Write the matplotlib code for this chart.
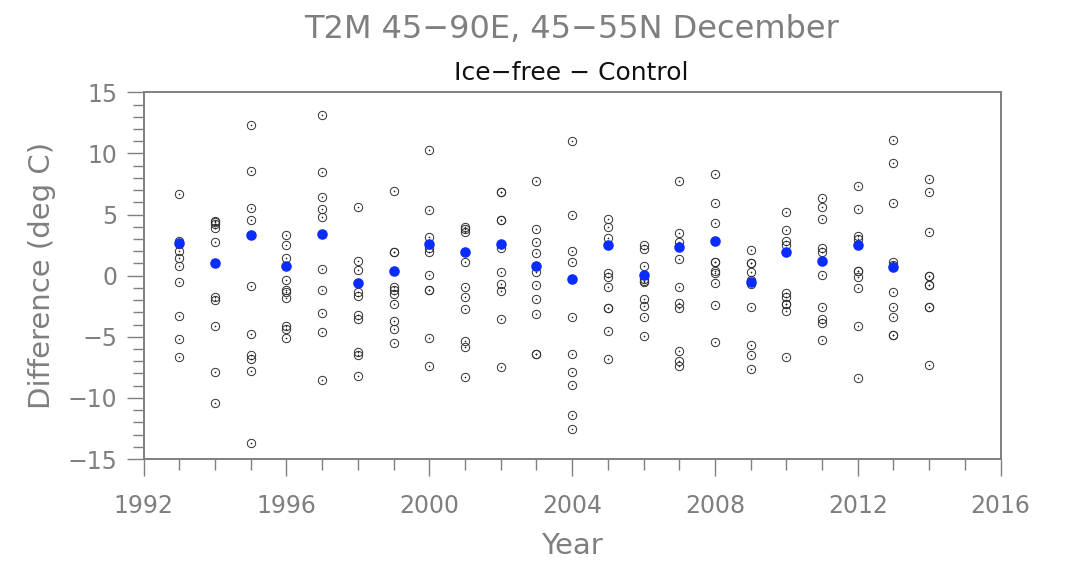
import matplotlib
matplotlib.use("Agg")
import matplotlib.pyplot as plt
from matplotlib.ticker import MultipleLocator

# ensemble members per year
t1993 = [6.68, 2.85, 2.60, 2.05, 1.42, 0.82, -0.55, -3.30, -5.21, -6.68]
t1994 = [4.45, 4.35, 4.20, 3.87, 2.73, -1.77, -1.99, -4.12, -7.91, -10.42]
t1995 = [12.36, 8.54, 5.56, 4.53, -0.87, -4.75, -6.49, -6.82, -7.77, -13.72]
t1996 = [3.36, 2.51, 1.45, -0.33, -1.17, -1.31, -1.83, -4.12, -4.39, -5.10]
t1997 = [13.15, 8.48, 6.46, 5.45, 4.83, 0.57, -1.20, -3.05, -4.58, -8.51]
t1998 = [5.59, 1.23, 0.46, -1.34, -1.69, -3.22, -3.57, -6.22, -6.46, -8.18]
t1999 = [6.96, 1.91, 1.91, -0.90, -1.17, -1.50, -2.32, -3.74, -4.36, -5.51]
t2000 = [10.31, 5.40, 3.19, 2.30, 1.96, 0.08, -1.17, -1.17, -5.10, -7.36]
t2001 = [4.01, 3.79, 3.55, 1.09, -0.95, -1.77, -2.73, -5.37, -5.81, -8.26]
t2002 = [6.82, 6.82, 4.55, 4.55, 2.26, 0.27, -0.68, -1.23, -3.57, -7.45]
t2003 = [7.72, 3.85, 2.78, 1.85, 0.27, -0.76, -1.94, -3.14, -6.41, -6.41]
t2004 = [11.05, 4.96, 2.02, 1.09, -3.38, -6.41, -7.91, -8.98, -11.37, -12.55]
t2005 = [4.66, 3.95, 3.08, 0.19, -0.14, -0.90, -2.67, -2.67, -4.56, -6.79]
t2006 = [2.54, 2.18, 0.82, -0.27, -0.40, -0.49, -1.91, -2.45, -3.36, -4.91]
t2007 = [7.72, 3.49, 2.73, 1.39, -0.90, -2.27, -2.65, -6.19, -6.96, -7.39]
t2008 = [8.32, 5.92, 4.31, 1.09, 1.09, 0.41, 0.19, -0.63, -2.37, -5.45]
t2009 = [2.10, 1.04, 1.04, 0.27, -0.35, -0.70, -2.54, -5.67, -6.46, -7.64]
t2010 = [5.18, 3.74, 2.86, 2.51, -1.42, -1.77, -2.32, -2.32, -2.86, -6.68]
t2011 = [6.36, 5.59, 4.64, 2.24, 1.96, 0.05, -2.59, -3.55, -3.90, -5.26]
t2012 = [7.36, 5.45, 3.22, 3.00, 0.41, 0.41, -0.14, -1.04, -4.15, -8.35]
t2013 = [11.07, 9.19, 5.92, 1.09, 0.85, -1.31, -2.59, -3.41, -4.85, -4.85]
t2014 = [7.91, 6.82, 3.55, -0.05, -0.05, -0.74, -0.74, -2.59, -2.59, -7.34]

years = list(range(1993, 2015))
members = [t1993, t1994, t1995, t1996, t1997, t1998, t1999, t2000, t2001, t2002,
           t2003, t2004, t2005, t2006, t2007, t2008, t2009, t2010, t2011, t2012,
           t2013, t2014]

# blue dots
blue_years = list(range(1993, 2014))
blue_vals = [2.67, 1.01, 3.33, 0.79, 3.41, -0.60, 0.35, 2.56, 1.94, 2.56,
             0.79, -0.27, 2.54, 0.08, 2.35, 2.86, -0.55, 1.91, 1.23, 2.54, 0.68]

GRAY = "#7f7f7f"

fig = plt.figure(figsize=(10.8, 5.65), dpi=100)
ax = fig.add_axes([0.1330, 0.1876, 0.7935, 0.6490])

for year, vals in zip(years, members):
    xs = [year] * len(vals)
    ax.plot(xs, vals, "o", mfc="none", mec="#303030", ms=6.0, mew=0.7, zorder=2)
    ax.plot(xs, vals, "o", color="#202020", ms=1.2, mew=0, zorder=2)

ax.plot(blue_years, blue_vals, "o", color="#0a2cff", ms=7.6, mew=0, zorder=3)

ax.set_xlim(1992, 2016)
ax.set_ylim(-15, 15)
ax.xaxis.set_major_locator(MultipleLocator(4))
ax.xaxis.set_minor_locator(MultipleLocator(1))
ax.yaxis.set_major_locator(MultipleLocator(5))
ax.yaxis.set_minor_locator(MultipleLocator(1))
ax.yaxis.set_major_formatter(plt.FuncFormatter(lambda v, p: f"{int(v)}".replace("-", "\u2212")))

ax.tick_params(which="both", direction="out", color=GRAY, labelcolor=GRAY,
               labelsize=17, top=False, right=False)
ax.tick_params(which="major", length=12, width=1.0)
ax.tick_params(which="minor", length=8, width=1.0)
ax.tick_params(axis="y", which="major", pad=7)
ax.tick_params(axis="x", which="major", pad=13)
for spine in ax.spines.values():
    spine.set_color(GRAY)
    spine.set_linewidth(1.4)

ax.set_xlabel("Year", color=GRAY, fontsize=21, labelpad=10)
ax.set_ylabel("Difference (deg C)", color=GRAY, fontsize=21, labelpad=8)

fig.text(0.529, 0.947, "T2M 45\u221290E, 45\u221255N December",
         ha="center", va="center", color=GRAY, fontsize=23)
fig.text(0.529, 0.871, "Ice\u2212free \u2212 Control", ha="center", va="center",
         color="#111111", fontsize=18)

fig.savefig("out.png", dpi=100)
